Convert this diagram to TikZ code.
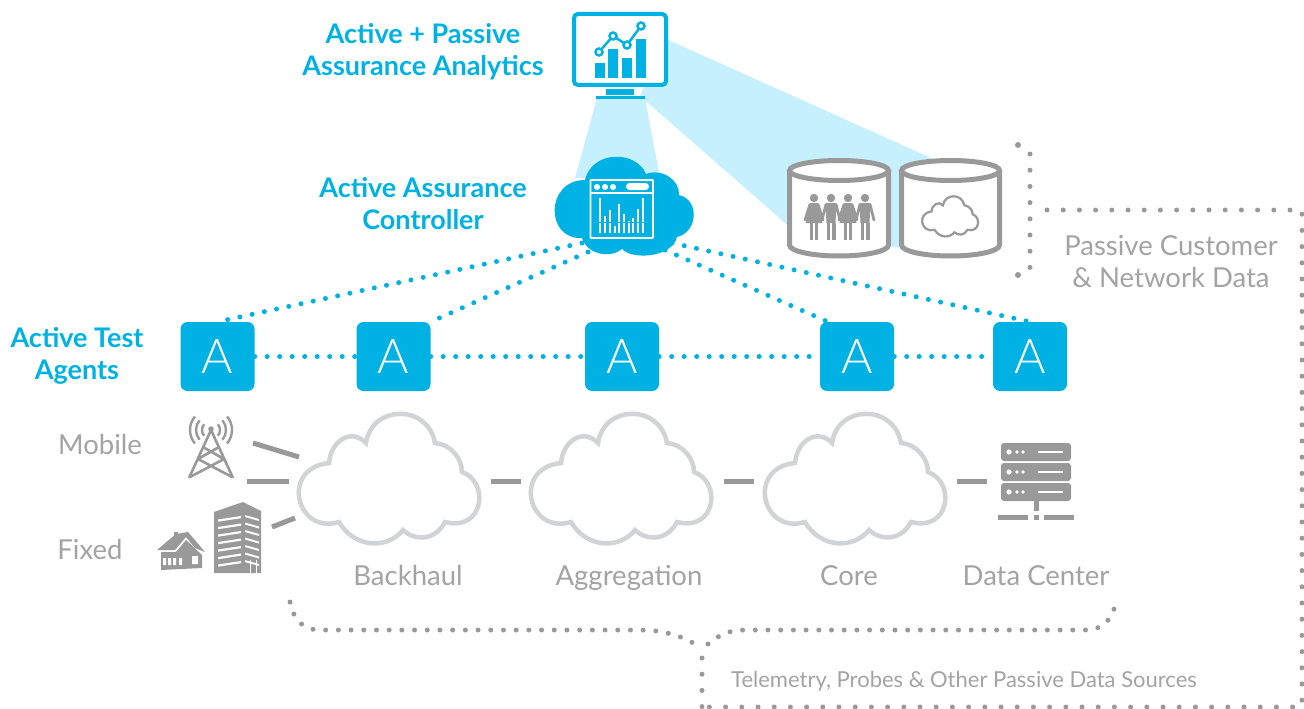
\documentclass[tikz,border=0pt]{standalone}
\usepackage{fontspec}
\setmainfont{Lato}
\newfontfamily\thinfont{Lato Light}
\usetikzlibrary{positioning,calc}
\definecolor{aqua}{HTML}{00B2E3}
\definecolor{beam}{HTML}{C7F0FF}
\definecolor{pale}{HTML}{D1D3D4}
\definecolor{iconGrey}{HTML}{999999}
\definecolor{textGrey}{HTML}{A3A3A3}
\newcommand{\netcloudpath}{(329,463) .. controls (331,440) and (352,428) .. (366,443)
 .. controls (372,404) and (428,404) .. (435,443)
 .. controls (450,444) and (462,458) .. (462,472)
 .. controls (490,482) and (484,532) .. (445,522)
 .. controls (435,541) and (415,541) .. (403,530)
 .. controls (388,549) and (355,549) .. (339,522)
 .. controls (296,535) and (280,468) .. (329,463) -- cycle}
\tikzset{
  x=1pt,y=-1pt,
  bluetext/.style={text=aqua,font=\fontsize{27}{30}\selectfont\bfseries,anchor=base,inner sep=0},
  greytext/.style={text=textGrey,font=\fontsize{27.5}{30}\selectfont,anchor=base,inner sep=0},
  smalltext/.style={text=textGrey,font=\fontsize{22}{24}\selectfont,anchor=base,inner sep=0},
  agent/.style={fill=aqua,rounded corners=7pt,minimum width=74pt,minimum height=69pt,text=white,inner sep=0,font=\thinfont\fontsize{48}{50}\selectfont},
  bluedots/.style={aqua,line width=5pt,line cap=round,dash pattern=on 0pt off 12.5pt},
  greydots/.style={iconGrey,line width=5pt,line cap=round,dash pattern=on 0pt off 12.7pt},
  greydotswide/.style={iconGrey,line width=5pt,line cap=round,dash pattern=on 0pt off 16.2pt},
  link/.style={iconGrey,line width=5pt},
  netcloud/.style={pale,line width=4.5pt,fill=white,line join=miter},
  cyl/.style={iconGrey,line width=5pt,fill=white},
  woman/.pic={
    \fill (0,0) circle (4.2);
    \fill (-4,5) -- (4,5) -- (5,13) -- (8.5,25) -- (-8.5,25) -- (-5,13) -- cycle;
    \fill (-4,25) rectangle (-0.7,42);
    \fill (0.7,25) rectangle (4,42);
    \draw[line width=2.8pt,line cap=round] (-4,6.5) -- (-9,22);
    \draw[line width=2.8pt,line cap=round] (4,6.5) -- (9,22);
  },
  man/.pic={
    \fill (0,0) circle (4.2);
    \fill (-5.5,5) -- (5.5,5) -- (4.5,25) -- (-4.5,25) -- cycle;
    \fill (-4.5,25) rectangle (-0.6,42);
    \fill (0.6,25) rectangle (4.5,42);
    \draw[line width=2.8pt,line cap=round] (-5,6.5) -- (-9,22);
    \draw[line width=2.8pt,line cap=round] (5,6.5) -- (9,22);
  }
}
\begin{document}
\begin{tikzpicture}
\useasboundingbox (0,0) rectangle (1304,709);
% beams
\fill[beam] (597,98) -- (645,98) -- (660,178) -- (575,178) -- cycle;
\fill[beam] (664,38) -- (940,162) -- (905,248) -- (800,236) -- (640,96) -- cycle;
% named anchors
\coordinate (ctlA) at (582,243);
\coordinate (ctlB) at (588,252);
\coordinate (ctlC) at (665,250);
\coordinate (ctlD) at (672,243);
% agents
\node[agent] (a1) at (217.5,356.5) {A};
\node[agent] (a2) at (393.5,356.5) {A};
\node[agent] (a3) at (622,356.5) {A};
\node[agent] (a4) at (857,356.5) {A};
\node[agent] (a5) at (1030,356.5) {A};
% dotted links
\draw[bluedots] (a1.east) -- (a2.west);
\draw[bluedots] (a2.east) -- (a3.west);
\draw[bluedots] (a3.east) -- (a4.west);
\draw[bluedots] (a4.east) -- (a5.west);
\draw[bluedots] (ctlA) -- (a1.north);
\draw[bluedots] (ctlB) -- (a2.north east);
\draw[bluedots] (ctlC) -- ($(a4.north west)+(8,0)$);
\draw[bluedots] (ctlD) -- (a5.north);
% monitor
\draw[aqua,line width=4pt,fill=white,rounded corners=4pt] (574,14) rectangle (666,85);
\fill[aqua] (606,89) rectangle (634,95);
\fill[aqua] (596,96) rectangle (645,99);
\fill[aqua] (595,63) rectangle (605,78);
\fill[aqua] (608,49) rectangle (618,78);
\fill[aqua] (622,58) rectangle (632,78);
\fill[aqua] (636,39) rectangle (646,78);
\draw[aqua,line width=2.5pt] (599,52) -- (613,36) -- (627,45) -- (641,26);
\foreach \p in {(599,52),(613,36),(627,45),(641,26)}
  \draw[aqua,line width=2.5pt,fill=white] \p circle (3.5);
% controller cloud
\fill[aqua] (585,180) .. controls (592,150) and (636,150) .. (646,174)
 .. controls (662,168) and (680,180) .. (679,195)
 .. controls (700,200) and (698,232) .. (677,237)
 .. controls (672,258) and (632,260) .. (622,249)
 .. controls (612,258) and (588,256) .. (582,238)
 .. controls (545,240) and (545,180) .. (585,180) -- cycle;
\draw[white,line width=1.6pt,rounded corners=0.5pt] (590.5,180) rectangle (653,238);
\draw[white,line width=1.4pt] (590.5,193) -- (653,193);
\fill[white] (597,187) circle (3) (605,187) circle (3) (613,187) circle (3);
\fill[white,rounded corners=3.4pt] (626,183) rectangle (649,190);
\foreach \x/\y in {600/198,605/216,610/210,615/226,619/204,624/214,629/221,633/218,638/209,643/198}
  \draw[white,line width=1.8pt] (\x,\y) -- (\x,232.5);
\draw[aqua,line width=1pt] (598,222) -- (645,222);
% cylinders
\draw[cyl] (789.5,173) -- (789.5,245) arc[start angle=180,end angle=0,x radius=49.5,y radius=11] -- (888.5,173) -- cycle;
\draw[cyl,fill=white] (839,170.5) ellipse[x radius=49.5,y radius=10];
\draw[cyl] (901.5,173) -- (901.5,245) arc[start angle=180,end angle=0,x radius=49,y radius=11] -- (999.5,173) -- cycle;
\draw[cyl,fill=white] (950.5,170.5) ellipse[x radius=49,y radius=10];
\begin{scope}[iconGrey]
  \path (814,198) pic {woman};
  \path (831,198) pic {man};
  \path (848,198) pic {woman};
  \path (865,198) pic {man};
\end{scope}
\begin{scope}[shift={(829.5,68)},scale=0.31]
  \draw[iconGrey,line width=2.2pt] \netcloudpath;
\end{scope}
% side bracket
\coordinate (sideTop) at (1030,154);
\coordinate (sideBot) at (1030,268.5);
\draw[greydotswide] (sideTop) -- (sideBot);
\fill[iconGrey] (1018,145) circle (3) (1018,275) circle (3);
\coordinate (brk) at (1047,210);
\coordinate (boxTR) at (1302,210);
\coordinate (boxBR) at (1302,707);
\coordinate (boxBL) at (702,707);
\coordinate (tip) at (702,658);
\draw[greydotswide] (brk) -- (boxTR) -- (boxBR) -- (boxBL);
\draw[greydotswide] (tip) -- (boxBL);
% brace
\draw[greydots] (290,602) .. controls (294,622) and (305,630) .. (320,630) -- (640,630)
  .. controls (670,630) and (690,640) .. (699,647);
\draw[greydots] (708,644) .. controls (720,634) and (730,630) .. (745,630) -- (1085,630)
  .. controls (1103,630) and (1112,620) .. (1116,602);
% network clouds
\draw[netcloud] \netcloudpath;
\begin{scope}[shift={(232,0)}] \draw[netcloud] \netcloudpath; \end{scope}
\begin{scope}[shift={(466,0)}] \draw[netcloud] \netcloudpath; \end{scope}
% links
\coordinate (t1) at (253,443); \coordinate (t2) at (299,457);
\coordinate (t3) at (247,481); \coordinate (t4) at (289,481);
\coordinate (t5) at (272,527); \coordinate (t6) at (295,518);
\coordinate (t7) at (491,481); \coordinate (t8) at (521,481);
\coordinate (t9) at (724,481); \coordinate (t10) at (754,481);
\coordinate (t11) at (957,481); \coordinate (t12) at (987,481);
\draw[link] (t1) -- (t2);
\draw[link] (t3) -- (t4);
\draw[link] (t5) -- (t6);
\draw[link] (t7) -- (t8);
\draw[link] (t9) -- (t10);
\draw[link] (t11) -- (t12);
% tower
\begin{scope}[iconGrey,line width=2.6pt]
  \draw (211,430) -- (189,478) (211,430) -- (233,478);
  \draw (203,447) -- (224,459) (219,447) -- (198,459);
  \draw (198,459) -- (232,477) (224,459) -- (190,477);
  \foreach \r in {9,15,21}{
    \draw[line width=2.4pt] (211,430) ++(220:\r) arc[start angle=220,end angle=140,radius=\r];
    \draw[line width=2.4pt] (211,430) ++(320:\r) arc[start angle=320,end angle=400,radius=\r];
  }
  \fill (211,429) circle (2.8);
\end{scope}
% building
\fill[iconGrey] (214,512) -- (243,502) -- (261,511) -- (261,573) -- (214,573) -- cycle;
\foreach \y in {518,525.5,533,540.5,548,555.5,563}{
  \fill[white] (218,\y+1.5) -- (241,\y-2) -- (241,\y+0.2) -- (218,\y+3.7) -- cycle;
  \fill[white] (245,\y-3) -- (259,\y+1) -- (259,\y+3) -- (245,\y-1) -- cycle;
}
\fill[white] (250,560) rectangle (251,573);
\fill[white] (256,560) rectangle (257,573);
% house
\fill[iconGrey] (174,532) rectangle (178,540);
\fill[iconGrey] (157,550) -- (176,534) -- (188,532) -- (205,552) -- (195,548) -- (186,537) -- (175,550) -- cycle;
\fill[iconGrey] (161,552) -- (176,552) -- (186,540) -- (202,555) -- (202,568) -- (161,570) -- cycle;
\fill[white] (163,558) rectangle (166,565) (168,558) rectangle (171,565) (173,558) rectangle (176,565) (179,558) rectangle (182,565) (192,556) rectangle (198,564);
% server
\foreach \y in {443,463,483}{
  \fill[iconGrey,rounded corners=3pt] (1001,\y) rectangle (1071,\y+18);
  \fill[white] (1009,\y+9) circle (2.6) (1017,\y+9) circle (1.8) (1023,\y+9) circle (1.8);
  \fill[white] (1038,\y+8) rectangle (1063,\y+10);
}
\fill[iconGrey] (1033.5,501) rectangle (1038.5,511);
\fill[iconGrey] (998,514.5) rectangle (1028,520);
\fill[iconGrey] (1033.5,514.5) rectangle (1039,520);
\fill[iconGrey] (1044,514.5) rectangle (1074,520);
% text
\node[bluetext] (t-ap1) at (423,44) {Active + Passive};
\node[bluetext] (t-ap2) at (423,75) {Assurance Analytics};
\node[bluetext] (t-ac1) at (423,197) {Active Assurance};
\node[bluetext] (t-ac2) at (423,229) {Controller};
\node[bluetext] (t-at1) at (77,347) {Active Test};
\node[bluetext] (t-at2) at (77,379) {Agents};
\node[greytext] (t-mob) at (100,454) {Mobile};
\node[greytext] (t-fix) at (90,559) {Fixed};
\node[greytext] (t-bh) at (408,585) {Backhaul};
\node[greytext] (t-ag) at (629,585) {Aggregation};
\node[greytext] (t-co) at (849,585) {Core};
\node[greytext] (t-dc) at (1036,585) {Data Center};
\node[greytext] (t-pc1) at (1171,255) {Passive Customer};
\node[greytext] (t-pc2) at (1171,287) {\& Network Data};
\node[smalltext] (t-tel) at (964,687) {Telemetry, Probes \& Other Passive Data Sources};
\end{tikzpicture}
\end{document}
